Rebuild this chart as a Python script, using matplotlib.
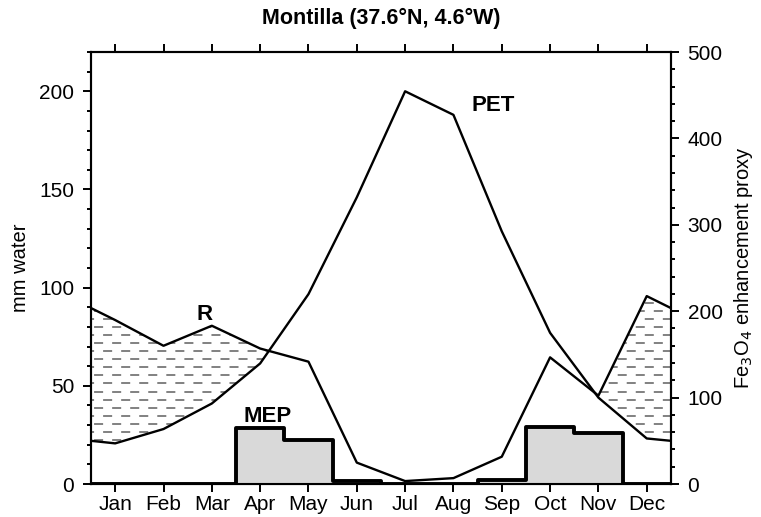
import numpy as np
import matplotlib.pyplot as plt
from matplotlib.patches import PathPatch
from matplotlib.ticker import MultipleLocator

plt.rcParams['font.family'] = ['Liberation Sans', 'DejaVu Sans']

months = ['Jan', 'Feb', 'Mar', 'Apr', 'May', 'Jun',
          'Jul', 'Aug', 'Sep', 'Oct', 'Nov', 'Dec']

# monthly rainfall and potential evapotranspiration (mm water)
rain = [83.5, 70.4, 80.6, 69.0, 62.3, 10.9, 1.5, 3.0, 13.9, 64.5, 45.0, 95.7]
pet = [20.7, 28.0, 41.0, 61.4, 96.7, 146.0, 200.0, 188.0, 128.7, 77.0, 44.0, 23.2]
# values where the Dec->Jan segment crosses the year boundary
rain_edge = 89.6
pet_edge = 22.0

# magnetite enhancement proxy, one step per month
mep = [0, 0, 0, 65.2, 50.9, 3.0, 0, 0, 4.6, 65.5, 58.6, 0]

mx = np.arange(1, 13)
xx = np.concatenate([[0.5], mx, [12.5]])
rr = np.concatenate([[rain_edge], rain, [rain_edge]])
pp = np.concatenate([[pet_edge], pet, [pet_edge]])

fig = plt.figure(figsize=(7.61, 5.17), dpi=100)
ax = fig.add_axes([0.1196, 0.0638, 0.762, 0.8356])
ax2 = ax.twinx()

ax.set_xlim(0.5, 12.5)
ax.set_ylim(0, 220)
ax2.set_ylim(0, 500)

# MEP steps on the right-hand scale
edges = np.arange(0.5, 13.5, 1.0)
mep_y = np.concatenate([mep, [mep[-1]]])
ax2.fill_between(edges, mep_y, step='post', color='#d9d9d9', lw=0, zorder=1)
ax2.step(edges, mep_y, where='post', color='black', lw=2.8, zorder=2)

# surplus area (R above PET) filled with dashed horizontal strokes
surplus = ax.fill_between(xx, pp, rr, where=rr > pp, interpolate=True,
                          facecolor='none', edgecolor='none')
for path in surplus.get_paths():
    clip = PathPatch(path, transform=ax.transData, fc='none', ec='none')
    ax.add_patch(clip)
    for k, yl in enumerate(np.arange(2.0, 110, 4.1)):
        ln, = ax.plot([0, 13], [yl, yl], color='#777777', lw=1.3, zorder=2)
        if k % 2 == 0:
            ln.set_dashes((5, 5))
        else:
            ln.set_dashes((0, 5, 5, 0))
        ln.set_clip_path(clip)

ax.plot(xx, rr, color='black', lw=1.7, zorder=3)
ax.plot(xx, pp, color='black', lw=1.7, zorder=3)

ax.text(8.83, 193, 'PET', fontsize=16, fontweight='bold', ha='center', va='center')
ax.text(2.85, 86.5, 'R', fontsize=16, fontweight='bold', ha='center', va='center')
ax.text(4.16, 34.4, 'MEP', fontsize=16, fontweight='bold', ha='center', va='center')

ax.set_xticks(mx)
ax.set_xticklabels(months)
ax.yaxis.set_major_locator(MultipleLocator(50))
ax.yaxis.set_minor_locator(MultipleLocator(10))
ax2.yaxis.set_major_locator(MultipleLocator(100))
ax2.yaxis.set_minor_locator(MultipleLocator(20))

ax.tick_params(axis='x', which='both', direction='out', top=True,
               length=6, width=1.4, labelsize=15, pad=2)
ax.tick_params(axis='y', which='major', direction='out', length=6, width=1.4,
               labelsize=15, pad=6)
ax.tick_params(axis='y', which='minor', direction='out', length=3, width=1.4)
ax2.tick_params(axis='y', which='major', direction='out', length=6, width=1.4,
                labelsize=15, pad=6)
ax2.tick_params(axis='y', which='minor', direction='out', length=3, width=1.4)

for a in (ax, ax2):
    for s in a.spines.values():
        s.set_linewidth(1.5)

ax.set_ylabel('mm water', fontsize=14.5, labelpad=7)
ax2.set_ylabel('Fe$_3$O$_4$ enhancement proxy', fontsize=14.5, labelpad=7)
ax.set_title('Montilla (37.6°N, 4.6°W)', fontsize=15.5, fontweight='bold', pad=20)

fig.savefig('out.png', dpi=100)
